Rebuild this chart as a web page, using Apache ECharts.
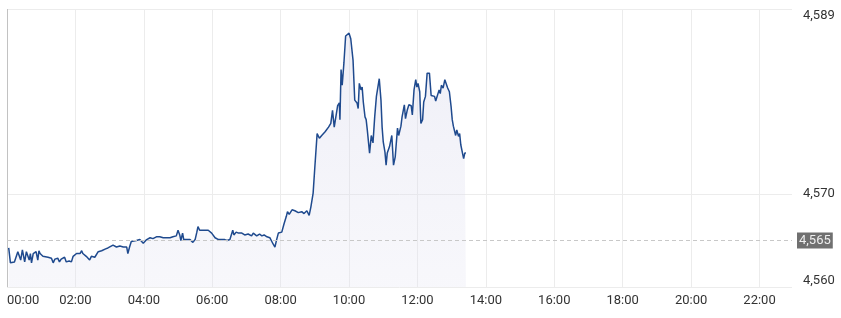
<!DOCTYPE html>
<html>
<head>
<meta charset="utf-8">
<script src="https://cdn.jsdelivr.net/npm/echarts@6/dist/echarts.min.js"></script>
<style>
html,body{margin:0;padding:0;background:#fff;}
#chart{width:841px;height:318px;}
</style>
</head>
<body>
<div id="chart"></div>
<script>
const times = [
"00:03","00:06","00:13","00:16","00:19","00:22","00:24","00:27","00:29","00:31",
"00:34","00:37","00:39","00:41","00:43","00:46","00:48","00:51","00:54","00:56",
"00:58","01:01","01:03","01:06","01:12","01:18","01:21","01:24","01:27","01:29",
"01:32","01:35","01:38","01:41","01:44","01:49","01:53","01:56","01:59","02:02",
"02:05","02:08","02:11","02:13","02:16","02:19","02:22","02:25","02:28","02:31",
"02:34","02:37","02:40","02:43","02:46","02:49","02:53","02:57","03:00","03:06",
"03:12","03:18","03:24","03:30","03:32","03:35","03:38","03:41","03:47","03:53",
"03:56","03:59","04:05","04:11","04:16","04:22","04:28","04:34","04:40","04:46",
"04:51","04:57","05:00","05:03","05:05","05:08","05:10","05:15","05:21","05:26",
"05:30","05:33","05:35","05:38","05:41","05:47","05:53","05:56","05:59","06:05",
"06:11","06:17","06:22","06:26","06:31","06:34","06:36","06:38","06:42","06:46",
"06:52","06:57","07:03","07:09","07:12","07:18","07:23","07:27","07:31","07:36",
"07:41","07:44","07:47","07:50","07:53","07:56","08:02","08:06","08:10","08:12",
"08:15","08:20","08:25","08:31","08:37","08:41","08:46","08:50","08:53","08:56",
"08:57","09:00","09:04","09:08","09:12","09:18","09:24","09:28","09:31","09:34",
"09:37","09:40","09:43","09:44","09:46","09:48","09:51","09:54","09:57","10:00",
"10:03","10:07","10:10","10:14","10:16","10:18","10:21","10:23","10:25","10:28",
"10:30","10:32","10:36","10:39","10:42","10:45","10:48","10:50","10:53","10:56",
"10:58","11:00","11:03","11:05","11:07","11:11","11:15","11:18","11:21","11:25",
"11:27","11:31","11:33","11:37","11:39","11:42","11:45","11:49","11:51","11:54",
"11:57","11:59","12:01","12:04","12:06","12:09","12:11","12:14","12:17","12:21",
"12:24","12:27","12:30","12:32","12:35","12:38","12:40","12:42","12:45","12:48",
"12:51","12:53","12:56","12:59","13:01","13:03","13:07","13:09","13:12","13:14",
"13:16","13:19","13:21","13:23","13:25"
];
const values = [
4564.2,4562.6,4562.7,4562.8,4563.8,4563.9,4562.9,4564.0,4563.8,4562.7,
4563.8,4563.9,4562.9,4563.6,4562.6,4563.6,4563.4,4563.8,4562.9,4563.9,
4563.6,4563.8,4563.3,4563.2,4563.2,4563.1,4562.6,4563.0,4562.9,4563.1,
4562.7,4563.0,4562.9,4563.2,4562.7,4562.8,4562.7,4563.3,4563.4,4563.6,
4563.8,4563.6,4563.9,4563.6,4563.4,4563.3,4563.1,4562.9,4563.3,4563.3,
4563.2,4563.4,4563.8,4563.6,4563.9,4563.8,4564.1,4564.2,4564.3,4564.5,
4564.3,4564.4,4564.3,4564.3,4563.6,4564.3,4564.9,4565.1,4565.0,4565.1,
4564.9,4564.7,4565.1,4565.3,4565.2,4565.4,4565.4,4565.3,4565.3,4565.3,
4565.4,4565.5,4566.1,4565.6,4565.0,4565.8,4565.1,4565.1,4565.1,4564.8,
4565.1,4565.9,4566.5,4566.1,4566.3,4566.1,4566.1,4566.0,4565.8,4565.3,
4565.1,4565.1,4565.1,4565.0,4565.1,4565.3,4566.1,4565.6,4565.9,4565.8,
4565.8,4565.6,4565.7,4565.5,4565.8,4565.5,4565.7,4565.5,4565.6,4565.4,
4565.3,4565.1,4564.6,4564.3,4565.1,4565.8,4565.9,4566.8,4567.6,4568.1,
4567.8,4568.3,4568.2,4568.0,4568.1,4567.9,4568.2,4567.7,4568.6,4568.8,
4570.1,4572.9,4576.5,4576.0,4576.3,4576.7,4577.2,4577.6,4579.0,4577.2,
4577.1,4579.5,4579.8,4578.0,4583.4,4581.7,4584.1,4587.0,4587.1,4587.3,
4586.7,4584.4,4580.1,4579.8,4579.2,4581.9,4581.2,4581.5,4579.9,4578.3,
4578.0,4576.9,4574.4,4576.3,4575.5,4578.3,4580.5,4580.3,4582.4,4580.1,
4577.2,4575.6,4574.5,4573.1,4574.4,4575.1,4576.3,4573.1,4574.0,4577.1,
4576.3,4577.3,4578.3,4579.6,4578.1,4579.0,4579.6,4579.5,4578.5,4581.2,
4582.3,4581.5,4581.9,4581.0,4577.6,4578.0,4579.9,4580.5,4583.0,4583.0,
4580.6,4580.4,4580.5,4580.0,4580.2,4581.2,4580.8,4581.7,4581.4,4582.3,
4582.1,4581.4,4581.0,4579.4,4578.0,4577.3,4576.3,4576.9,4576.2,4576.5,
4575.3,4574.4,4573.8,4574.4,4574.4
];
const previousClose = 4565;
const yMin = 4560;
const yMax = 4589.9;
const xMinMinutes = 0;
const xMaxMinutes = 1377;

function toMinutes(t){ const p = t.split(':'); return Number(p[0])*60 + Number(p[1]); }
function fmtTime(v){ const h = Math.floor(v/60), m = Math.round(v%60); return (h<10?'0':'')+h+':'+(m<10?'0':'')+m; }
function fmtNum(v){ return Math.floor(v).toLocaleString('en-US'); }

const seriesData = times.map((t,i)=>[toMinutes(t), values[i]]);

const chart = echarts.init(document.getElementById('chart'), null, {renderer:'canvas'});
const xLineColors = ['#c2c2c2'].concat(new Array(13).fill('#ececec'));
chart.setOption({
  animation: false,
  backgroundColor: '#ffffff',
  textStyle: { fontFamily: 'Roboto, sans-serif' },
  grid: { left: 7, right: 49, top: 9, bottom: 31, containLabel: false },
  xAxis: {
    type: 'value',
    min: xMinMinutes, max: xMaxMinutes, interval: 120,
    axisLine: { show: false }, axisTick: { show: false },
    splitLine: { show: true, showMaxLine: false, lineStyle: { color: xLineColors, width: 1 } },
    axisLabel: {
      color: '#333', fontSize: 13, margin: 7,
      alignMinLabel: 'left', showMaxLabel: false,
      formatter: v => v >= xMaxMinutes ? '' : fmtTime(v)
    }
  },
  yAxis: {
    type: 'value', position: 'right',
    min: yMin, max: yMax, interval: 10,
    axisLine: { show: false }, axisTick: { show: false },
    splitLine: { show: true, lineStyle: { color: ['#ececec','#ececec','rgba(0,0,0,0)','#ececec'], width: 1 } },
    axisLabel: {
      color: '#333', fontSize: 13, margin: 11,
      verticalAlignMinLabel: 'bottom', verticalAlignMaxLabel: 'top',
      formatter: v => (v === 4580 ? '' : fmtNum(v))
    }
  },
  series: [{
    type: 'line',
    data: seriesData,
    symbol: 'none',
    lineStyle: { color: '#1f4a8e', width: 1.5 },
    areaStyle: {
      color: new echarts.graphic.LinearGradient(0,0,0,1,[
        {offset:0, color:'rgba(205,205,230,0.45)'},
        {offset:1, color:'rgba(228,228,242,0.4)'}
      ])
    },
    markLine: {
      silent: true, symbol: 'none', animation: false,
      lineStyle: { color: '#c8c8c8', type: [4,3], width: 1 },
      label: {
        show: true, position: 'end', distance: 5,
        formatter: () => fmtNum(previousClose),
        color: '#eeeeee', fontSize: 13, backgroundColor: '#707070',
        padding: [2, 2, 1, 2], fontFamily: 'Roboto, sans-serif'
      },
      data: [{ yAxis: previousClose }]
    }
  }]
});
</script>
</body>
</html>
